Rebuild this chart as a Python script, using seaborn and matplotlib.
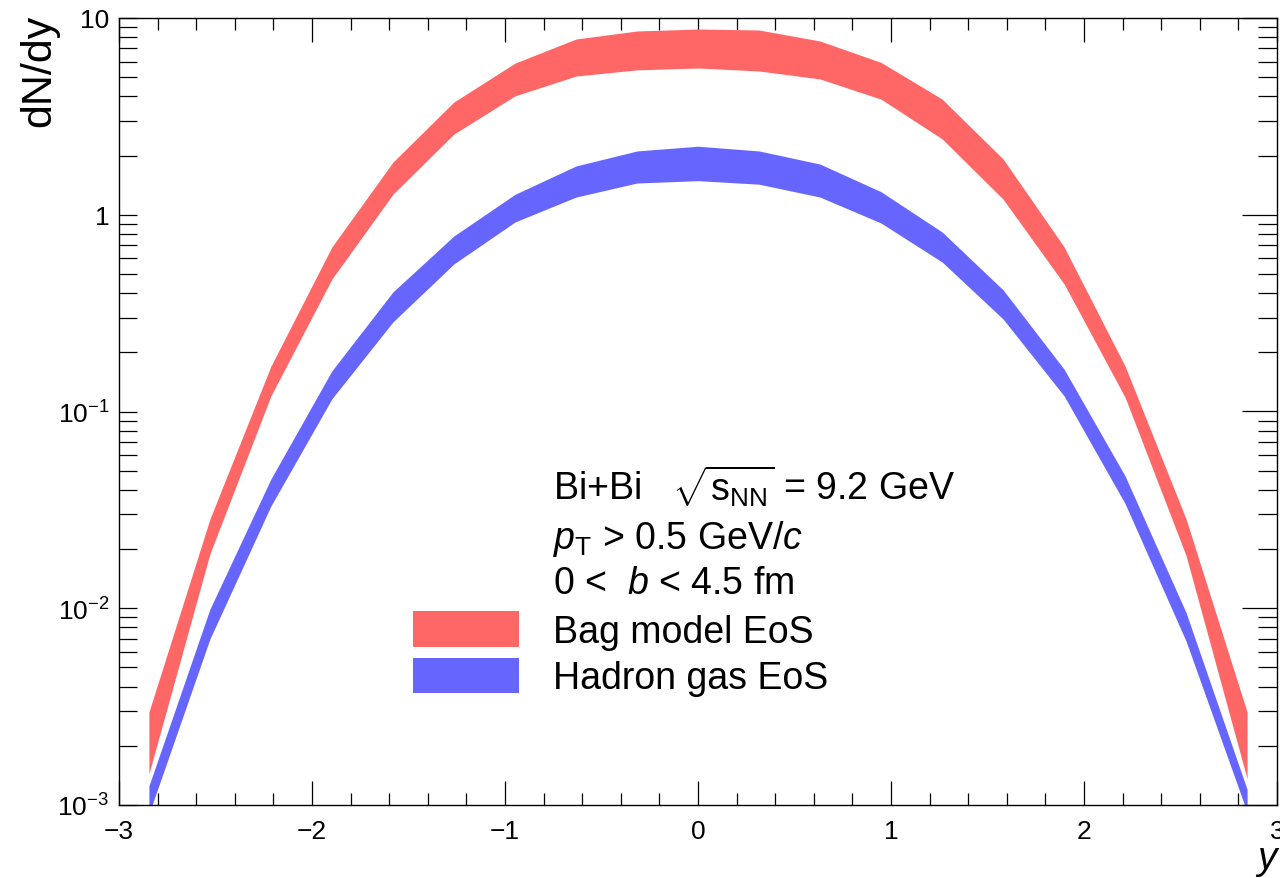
import numpy as np
import pandas as pd
import matplotlib
matplotlib.use("Agg")
import matplotlib.pyplot as plt
from matplotlib.patches import Patch
from matplotlib.ticker import MultipleLocator, LogLocator, NullFormatter
import seaborn as sns

# ---- data: rapidity grid and dN/dy bands (lower / upper edges) ----
rapidity = [-2.845, -2.529, -2.213, -1.897, -1.581, -1.265, -0.948, -0.632, -0.316, 0.0,
            0.316, 0.632, 0.948, 1.265, 1.581, 1.897, 2.213, 2.529, 2.845]

bag_hi = [0.00297, 0.0284, 0.170, 0.686, 1.85, 3.74, 5.90, 7.82, 8.59, 8.79,
          8.69, 7.64, 5.95, 3.87, 1.92, 0.686, 0.170, 0.0284, 0.00297]
bag_lo = [0.00144, 0.0189, 0.120, 0.471, 1.27, 2.57, 4.02, 5.07, 5.45, 5.57,
          5.38, 4.90, 3.87, 2.43, 1.20, 0.445, 0.118, 0.0185, 0.00136]

hadron_hi = [0.00125, 0.0099, 0.0454, 0.161, 0.405, 0.780, 1.27, 1.77, 2.11, 2.23,
             2.11, 1.81, 1.31, 0.817, 0.415, 0.164, 0.047, 0.0095, 0.0012]
hadron_lo = [0.00090, 0.00698, 0.0331, 0.116, 0.285, 0.562, 0.919, 1.23, 1.45, 1.49,
             1.43, 1.23, 0.908, 0.575, 0.295, 0.120, 0.034, 0.0068, 0.00092]

models = ["Bag model EoS", "Hadron gas EoS"]
colors = {"Bag model EoS": "#FF6666", "Hadron gas EoS": "#6666FF"}

x_ticks = [-3, -2, -1, 0, 1, 2, 3]
x_ticklabels = ["\u22123", "\u22122", "\u22121", "0", "1", "2", "3"]
y_ticks = [1e-3, 1e-2, 1e-1, 1, 10]
y_ticklabels = [r"$10^{-3}$", r"$10^{-2}$", r"$10^{-1}$", "1", "10"]

info_lines = [
    r"Bi+Bi   $\sqrt{{\rm s}_{\rm NN}}$ = 9.2 GeV",
    r"$p_{\rm T}$ > 0.5 GeV/$c$",
    r"0 <  $b$ < 4.5 fm",
]

# long-format table: each rapidity has a lower and an upper value per model
rows = []
for name, lo, hi in [(models[0], bag_lo, bag_hi), (models[1], hadron_lo, hadron_hi)]:
    for xv, a, b in zip(rapidity, lo, hi):
        rows.append({"y": xv, "dNdy": a, "model": name})
        rows.append({"y": xv, "dNdy": b, "model": name})
df = pd.DataFrame(rows)

# ---- style ----
sns.set_theme(style="ticks")
plt.rcParams["font.family"] = ["Liberation Sans", "DejaVu Sans"]
plt.rcParams["mathtext.fontset"] = "custom"
plt.rcParams["mathtext.rm"] = "Liberation Sans"
plt.rcParams["mathtext.it"] = "Liberation Sans:italic"
plt.rcParams["mathtext.bf"] = "Liberation Sans:bold"
plt.rcParams["mathtext.sf"] = "Liberation Sans"
for key in ["text.color", "axes.labelcolor", "xtick.color", "ytick.color", "axes.edgecolor"]:
    plt.rcParams[key] = "black"

W, H = 1280, 879
fig = plt.figure(figsize=(W / 100, H / 100), dpi=100)
fig.patch.set_facecolor("white")
L, R, T, B = 119, 1277, 19, 806
ax = fig.add_axes([L / W, 1 - B / H, (R - L) / W, (B - T) / H])
ax.set_facecolor("white")
ax.set_yscale("log")
ax.set_xlim(-3, 3)
ax.set_ylim(1e-3, 10)

# bands span min..max of the two values at each rapidity
sns.lineplot(data=df, x="y", y="dNdy", hue="model", hue_order=models, palette=colors,
             errorbar=("pi", 100), err_kws={"alpha": 1.0, "linewidth": 0},
             linewidth=0, legend=False, ax=ax)
ax.set_xlim(-3, 3)
ax.set_ylim(1e-3, 10)

# ---- axes & ticks ----
for sp in ax.spines.values():
    sp.set_visible(True)
    sp.set_color("black")
    sp.set_linewidth(1.0)

ax.set_xticks(x_ticks)
ax.set_xticklabels(x_ticklabels)
ax.xaxis.set_minor_locator(MultipleLocator(0.2))
ax.set_yticks(y_ticks)
ax.set_yticklabels(y_ticklabels)
ax.yaxis.set_minor_locator(LogLocator(base=10, subs=np.arange(2, 10)))
ax.yaxis.set_minor_formatter(NullFormatter())

ax.tick_params(axis="x", which="major", direction="in", length=17, width=0.9,
               top=True, bottom=True, labelsize=19, pad=10, color="black",
               labelcolor="black")
ax.tick_params(axis="x", which="minor", direction="in", length=8.6, width=0.9,
               top=True, bottom=True, color="black")
ax.tick_params(axis="y", which="both", direction="in", length=13, width=0.9,
               left=True, right=False, labelsize=19, pad=7, color="black",
               labelcolor="black")

ax2 = ax.twinx()
ax2.set_yscale("log")
ax2.set_ylim(1e-3, 10)
ax2.yaxis.set_major_locator(LogLocator(base=10))
ax2.yaxis.set_minor_locator(LogLocator(base=10, subs=np.arange(2, 10)))
ax2.yaxis.set_minor_formatter(NullFormatter())
ax2.tick_params(axis="y", which="major", direction="in", length=25, width=0.9,
                labelright=False, color="black")
ax2.tick_params(axis="y", which="minor", direction="in", length=13.7, width=0.9,
                labelright=False, color="black")
for sp in ax2.spines.values():
    sp.set_visible(False)

ax.set_xlabel("y", fontsize=28, style="italic", loc="right", color="black")
ax.xaxis.set_label_coords(1.0, -0.044)
ax.set_ylabel("dN/dy", fontsize=31, loc="top", color="black")
ax.yaxis.set_label_coords(-0.052, 1.006)

# ---- annotation block ----
tx = (553 - L) / (R - L)
for line, yb in zip(info_lines, [501, 549, 594]):
    ax.text(tx, (B - yb) / (B - T), line, transform=ax.transAxes,
            fontsize=27, va="baseline", ha="left", color="black")

handles = [Patch(facecolor=colors[m], edgecolor="none", label=m) for m in models]
ax.legend(handles=handles, loc="upper left",
          bbox_to_anchor=((413 - L) / (R - L), (B - 612) / (B - T)),
          frameon=False, fontsize=27, handlelength=2.83, handleheight=1.08,
          handletextpad=0.9, labelspacing=0.22, borderpad=0, borderaxespad=0,
          labelcolor="black")

fig.savefig("out.png", dpi=100, facecolor="white")
